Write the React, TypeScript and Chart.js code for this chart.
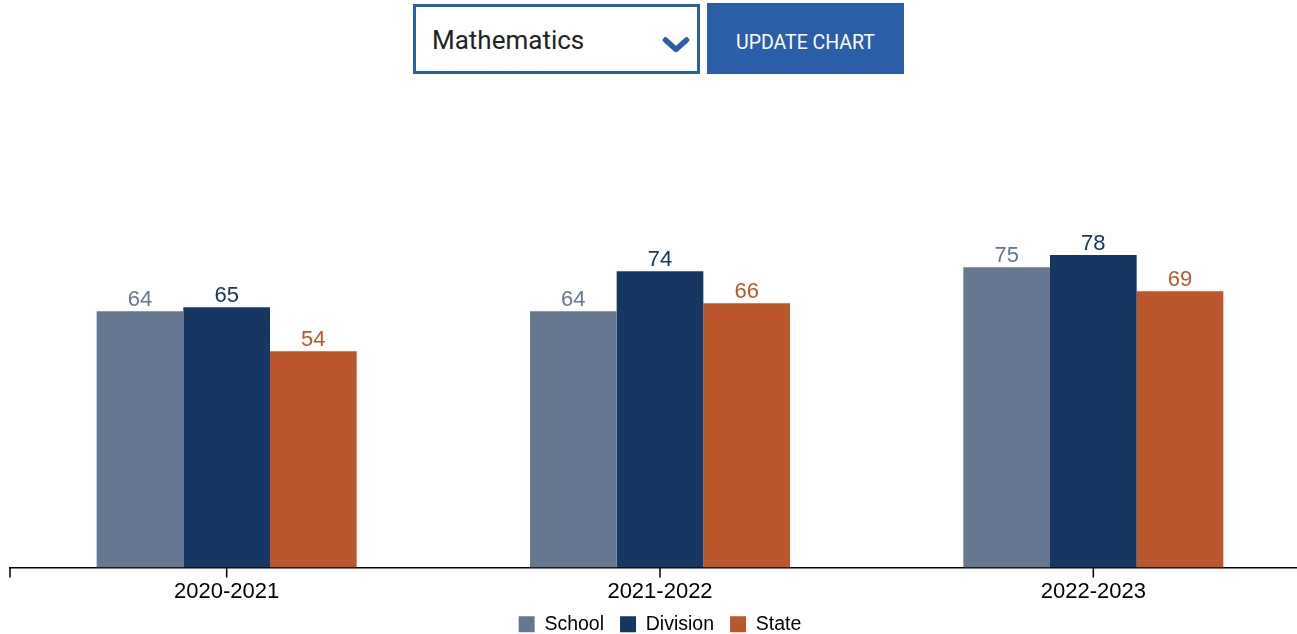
import React, { useEffect, useRef } from "react";
import { Chart, registerables } from "chart.js";

Chart.register(...registerables);

const years = ["2020-2021", "2021-2022", "2022-2023"];
const schoolScores = [64, 64, 75];
const divisionScores = [65, 74, 78];
const stateScores = [54, 66, 69];

const SCHOOL_COLOR = "#66788f";
const DIVISION_COLOR = "#163663";
const STATE_COLOR = "#bc562b";
const BRAND_BLUE = "#2a5ea8";
const FONT = "'Liberation Sans', Arial, Helvetica, sans-serif";
const TICK_MARK = 10;

// Draws each bar's value just above it, in the bar's own colour.
const valueLabels = {
  id: "valueLabels",
  afterDatasetsDraw(chart: any) {
    const ctx = chart.ctx;
    ctx.save();
    ctx.font = `22px ${FONT}`;
    ctx.textAlign = "center";
    ctx.textBaseline = "alphabetic";
    chart.data.datasets.forEach((ds: any, i: number) => {
      const meta = chart.getDatasetMeta(i);
      ctx.fillStyle = ds.backgroundColor;
      meta.data.forEach((bar: any, j: number) => {
        ctx.fillText(String(ds.data[j]), bar.x, bar.y - 5);
      });
    });
    ctx.restore();
  },
};

// Short tick marks under the axis: one per category plus both outer ends.
const axisTicks = {
  id: "axisTicks",
  afterDraw(chart: any) {
    const x = chart.scales.x;
    const ctx = chart.ctx;
    const xs = [x.left, x.right];
    x.ticks.forEach((_t: any, i: number) => xs.push(x.getPixelForTick(i)));
    ctx.save();
    ctx.strokeStyle = "#000";
    ctx.lineWidth = 1.5;
    ctx.beginPath();
    xs.forEach((px) => {
      ctx.moveTo(px, x.top);
      ctx.lineTo(px, x.top + TICK_MARK);
    });
    ctx.stroke();
    ctx.restore();
  },
};

function ScoreChart() {
  const ref = useRef<HTMLCanvasElement | null>(null);
  useEffect(() => {
    if (!ref.current) return;
    const chart = new Chart(ref.current, {
      type: "bar",
      data: {
        labels: years,
        datasets: [
          { label: "School", data: schoolScores, backgroundColor: SCHOOL_COLOR },
          { label: "Division", data: divisionScores, backgroundColor: DIVISION_COLOR },
          { label: "State", data: stateScores, backgroundColor: STATE_COLOR },
        ],
      },
      options: {
        animation: false,
        responsive: false,
        maintainAspectRatio: false,
        datasets: { bar: { categoryPercentage: 0.6, barPercentage: 1.0, borderWidth: 0 } },
        layout: { padding: { top: 167, left: 10, right: 0, bottom: 0 } },
        scales: {
          x: {
            border: { display: true, color: "#000", width: 1.5 },
            grid: {
              display: true,
              offset: false,
              drawOnChartArea: false,
              drawTicks: true,
              tickLength: 17,
              color: "rgba(0,0,0,0)",
            },
            ticks: {
              color: "#000",
              font: { family: FONT, size: 22, lineHeight: 0.4545 },
              padding: 2,
            },
          },
          y: { display: false, min: 0, max: 100 },
        },
        plugins: {
          tooltip: { enabled: false },
          legend: {
            position: "bottom",
            labels: {
              boxWidth: 16,
              boxHeight: 16,
              padding: 16,
              color: "#000",
              font: { family: FONT, size: 19.5 },
            },
          },
        },
      },
      plugins: [valueLabels, axisTicks],
    } as any);
    return () => chart.destroy();
  }, []);
  return (
    <canvas
      ref={ref}
      width={1310}
      height={644}
      style={{ position: "absolute", left: 0, top: 0, width: 1310, height: 644 }}
    />
  );
}

export default function App() {
  return (
    <div
      style={{
        position: "fixed",
        left: 0,
        top: 0,
        width: 1297,
        height: 634,
        overflow: "hidden",
        background: "#fff",
      }}
    >
      <ScoreChart />
      <div
        style={{
          position: "absolute",
          left: 413,
          top: 4,
          width: 287,
          height: 70,
          boxSizing: "border-box",
          border: `3px solid ${BRAND_BLUE}`,
          background: "#fff",
          fontFamily: "Roboto, sans-serif",
          fontSize: 26,
          color: "#222",
          display: "flex",
          alignItems: "center",
          paddingLeft: 16,
          paddingTop: 1,
        }}
      >
        Mathematics
        <svg
          width="28"
          height="18"
          viewBox="0 0 28 18"
          style={{ position: "absolute", left: 246, top: 29 }}
        >
          <polyline
            points="3.5,4 14,13.5 24.5,4"
            fill="none"
            stroke={BRAND_BLUE}
            strokeWidth="5.5"
            strokeLinecap="round"
            strokeLinejoin="round"
          />
        </svg>
      </div>
      <div
        style={{
          position: "absolute",
          left: 707,
          top: 3,
          width: 197,
          height: 71,
          background: BRAND_BLUE,
          color: "#fff",
          fontFamily: "Roboto, sans-serif",
          fontSize: 19.5,
          display: "flex",
          alignItems: "center",
          justifyContent: "center",
          paddingTop: 7,
          boxSizing: "border-box",
        }}
      >
        UPDATE CHART
      </div>
    </div>
  );
}
